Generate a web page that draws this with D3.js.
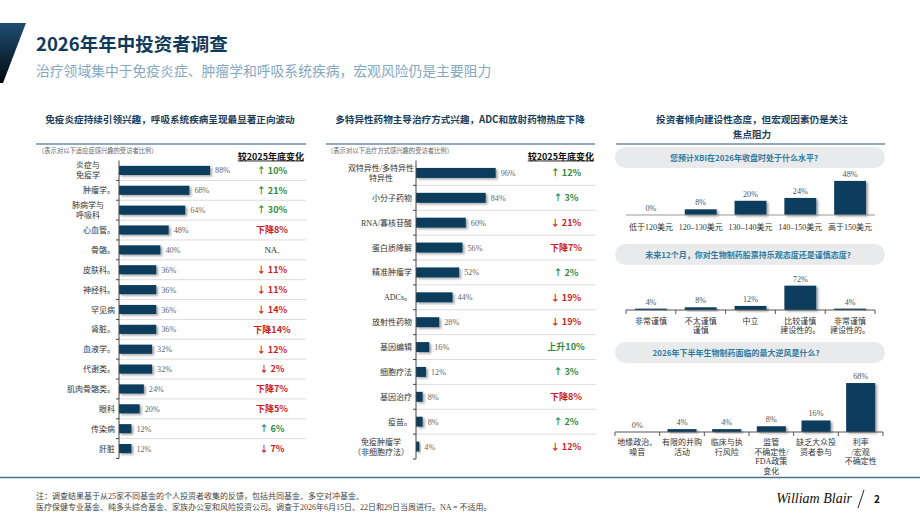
<!DOCTYPE html>
<html>
<head>
<meta charset="utf-8">
<script src="https://cdn.jsdelivr.net/npm/d3@7"></script>
<style>
  body { margin: 0; background: #fff; }
  svg text { font-family: "Noto Sans CJK SC", "Noto Sans", sans-serif; }
  svg text.serif { font-family: "Liberation Serif", "Noto Sans CJK SC", serif; }
</style>
</head>
<body>
<div id="chart"></div>
<script>
// ---- data ----
const therapyAreas = ["炎症与\n免疫学", "肿瘤学。", "肺病学与\n呼吸科", "心血管。", "骨骼。", "皮肤科。", "神经科。", "罕见病", "肾脏。", "血液学。", "代谢类。", "肌肉骨骼类。", "眼科", "传染病", "肝脏"];
const therapyShare = [88, 68, 64, 48, 40, 36, 36, 36, 36, 32, 32, 24, 20, 12, 12];
const therapyChange = ["↑ 10%", "↑ 21%", "↑ 30%", "下降8%", "NA.", "↓ 11%", "↓ 11%", "↓ 14%", "下降14%", "↓ 12%", "↓ 2%", "下降7%", "下降5%", "↑ 6%", "↓ 7%"];

const modalities = ["双特异性/多特异性\n特异性", "小分子药物", "RNA/寡核苷酸", "蛋白质降解", "精准肿瘤学", "ADCs。", "放射性药物", "基因编辑", "细胞疗法", "基因治疗", "疫苗。", "免疫肿瘤学\n（非细胞疗法）"];
const modalityShare = [96, 84, 60, 56, 52, 44, 28, 16, 12, 8, 8, 4];
const modalityChange = ["↑ 12%", "↑ 3%", "↓ 21%", "下降7%", "↑ 2%", "↓ 19%", "↓ 19%", "上升10%", "↑ 3%", "下降8%", "↑ 2%", "↓ 12%"];

const xbiLevels = ["低于120美元", "120–130美元", "130–140美元", "140–150美元", "高于150美元"];
const xbiShare = [0, 8, 20, 24, 48];

const sentimentLabels = ["非常谨慎", "不太谨慎\n谨慎", "中立", "比较谨慎\n建设性的。", "非常谨慎\n建设性的。"];
const sentimentShare = [4, 8, 12, 72, 4];

const headwindLabels = ["地缘政治、\n噪音", "有限的并购\n活动", "临床与执\n行风险", "监管\n不确定性/\nFDA政策\n变化", "缺乏大众投\n资者参与", "利率\n/宏观\n不确定性"];
const headwindShare = [0, 4, 4, 8, 16, 68];

// ---- setup ----
const width = 920, height = 518;
const barColor = "#0b3c5d";
const navy = "#0e3a5c";
const green = "#2f8a3b", red = "#cf1d1d";

const svg = d3.select("#chart").append("svg")
  .attr("width", width)
  .attr("height", height);

const defs = svg.append("defs");
const grad = defs.append("linearGradient").attr("id", "corner")
  .attr("x1", 0).attr("y1", 0).attr("x2", 0).attr("y2", 1);
grad.append("stop").attr("offset", "0%").attr("stop-color", "#1f4e73");
grad.append("stop").attr("offset", "100%").attr("stop-color", "#02080d");

defs.append("filter").attr("id", "shadow")
  .attr("x", "-20%").attr("y", "-40%").attr("width", "160%").attr("height", "200%")
  .append("feDropShadow")
  .attr("dx", 2).attr("dy", 1.5).attr("stdDeviation", 1)
  .attr("flood-color", "#000").attr("flood-opacity", 0.35);

// header
svg.append("polygon")
  .attr("points", "0,23 26,23 3,83 0,83")
  .attr("fill", "url(#corner)");

svg.append("text").attr("x", 36).attr("y", 51)
  .attr("font-size", 18.5).attr("font-weight", 700).attr("fill", navy)
  .text("2026年年中投资者调查");

svg.append("text").attr("x", 36).attr("y", 76)
  .attr("font-size", 13.8).attr("fill", "#84a8c2")
  .text("治疗领域集中于免疫炎症、肿瘤学和呼吸系统疾病，宏观风险仍是主要阻力");

// panel titles + rules
function panelTitle(lines, cx, x0, x1) {
  lines.forEach((t, i) => {
    svg.append("text").attr("x", cx).attr("y", 123 + i * 15)
      .attr("text-anchor", "middle").attr("font-size", 9.6).attr("font-weight", 700)
      .attr("fill", "#1a3d5c").text(t);
  });
  svg.append("line").attr("x1", x0).attr("x2", x1).attr("y1", 144).attr("y2", 144)
    .attr("stroke", "#8fa9bf").attr("stroke-width", 2);
}
panelTitle(["免疫炎症持续引领兴趣，呼吸系统疾病呈现最显著正向波动"], 170, 36, 306);
panelTitle(["多特异性药物主导治疗方式兴趣，ADC和放射药物热度下降"], 460, 326, 595);
panelTitle(["投资者倾向建设性态度，但宏观因素仍是关注", "焦点阻力"], 752, 616, 885);

function changeColor(s) {
  if (s.startsWith("↑") || s.startsWith("上升")) return green;
  if (s.startsWith("NA")) return "#333";
  return red;
}

// horizontal bar panel
function drawHBarPanel(o) {
  const g = svg.append("g");
  const n = o.categories.length;
  const y = d3.scaleBand().domain(o.categories)
    .range([o.top, o.bottom])
    .paddingInner(o.pad).paddingOuter(o.pad / 2);
  const x = d3.scaleLinear().domain([0, 100]).range([o.axisX, o.axisX + o.full]);
  const step = y.step();

  g.append("text").attr("x", o.noteX).attr("y", 153)
    .attr("font-size", 6.3).attr("fill", "#666").text(o.note);

  g.append("text").attr("x", o.rightX).attr("y", 159.5)
    .attr("text-anchor", "end").attr("font-size", 9).attr("font-weight", 700)
    .attr("fill", "#111").attr("text-decoration", "underline")
    .text("较2025年底变化");

  // row separators and ticks
  d3.range(1, n + 1).forEach(i => {
    const yy = o.top + i * step;
    if (i < n) {
      g.append("line").attr("x1", o.axisX).attr("x2", o.rightX + 2)
        .attr("y1", yy).attr("y2", yy).attr("stroke", "#dcdcdc").attr("stroke-width", 1);
    }
    g.append("line").attr("x1", o.axisX - 3).attr("x2", o.axisX)
      .attr("y1", yy).attr("y2", yy).attr("stroke", "#444").attr("stroke-width", 1);
  });

  g.selectAll("rect.bar").data(o.values).join("rect")
    .attr("class", "bar")
    .attr("x", o.axisX)
    .attr("y", (d, i) => y(o.categories[i]))
    .attr("width", d => x(d) - o.axisX)
    .attr("height", y.bandwidth())
    .attr("fill", barColor)
    .attr("filter", "url(#shadow)");

  g.append("line").attr("x1", o.axisX).attr("x2", o.axisX)
    .attr("y1", o.top).attr("y2", o.bottom).attr("stroke", "#444").attr("stroke-width", 1);

  g.selectAll("text.val").data(o.values).join("text")
    .attr("class", "val serif")
    .attr("x", d => x(d) + 5)
    .attr("y", (d, i) => y(o.categories[i]) + y.bandwidth() / 2 + 3)
    .attr("font-size", 8.2).attr("fill", "#666")
    .text(d => d + "%");

  o.categories.forEach((c, i) => {
    const lines = c.split("\n");
    const cy = y(c) + y.bandwidth() / 2;
    const multi = lines.length > 1;
    lines.forEach((t, j) => {
      g.append("text").attr("class", "serif")
        .attr("x", multi ? o.multiX : o.axisX - 4)
        .attr("y", cy + 3 + (j - (lines.length - 1) / 2) * 10)
        .attr("text-anchor", multi ? "middle" : "end")
        .attr("font-size", 8).attr("fill", "#333")
        .text(t);
    });
  });

  g.selectAll("text.chg").data(o.changes).join("text")
    .attr("class", d => d.startsWith("NA") ? "chg serif" : "chg")
    .attr("x", o.changeX)
    .attr("y", (d, i) => y(o.categories[i]) + y.bandwidth() / 2 + 3.3)
    .attr("text-anchor", "middle")
    .attr("font-size", 9)
    .attr("font-weight", d => d.startsWith("NA") ? 400 : 700)
    .attr("fill", d => changeColor(d))
    .text(d => d);
}

drawHBarPanel({
  categories: therapyAreas, values: therapyShare, changes: therapyChange,
  top: 160.5, bottom: 458.5, pad: 0.54, axisX: 119, full: 103.5,
  noteX: 38, note: "（表示对以下适应症感兴趣的受访者比例）",
  rightX: 304, changeX: 272, multiX: 88
});

drawHBarPanel({
  categories: modalities, values: modalityShare, changes: modalityChange,
  top: 160.5, bottom: 459, pad: 0.6, axisX: 416, full: 83,
  noteX: 327, note: "（表示对以下治疗方式感兴趣的受访者比例）",
  rightX: 594, changeX: 566, multiX: 381
});

// column charts in the right panel
function pill(y0, y1, text, tx) {
  svg.append("rect").attr("x", 615).attr("y", y0).attr("width", 270).attr("height", y1 - y0)
    .attr("rx", (y1 - y0) / 2).attr("fill", "#e9eaeb");
  svg.append("text").attr("x", tx).attr("y", (y0 + y1) / 2 + 3)
    .attr("text-anchor", "middle").attr("font-size", 8).attr("font-weight", 700)
    .attr("fill", "#2f7aa0").text(text);
}

function drawColumns(o) {
  const g = svg.append("g");
  const x = d3.scaleBand().domain(o.labels).range([o.x0, o.x1])
    .paddingInner(o.pad).paddingOuter(o.pad / 2);
  const y = d3.scaleLinear().domain([0, 100]).range([o.base, o.base - o.full]);

  g.selectAll("rect").data(o.values).join("rect")
    .attr("x", (d, i) => x(o.labels[i]))
    .attr("y", d => y(d))
    .attr("width", x.bandwidth())
    .attr("height", d => o.base - y(d))
    .attr("fill", barColor)
    .attr("filter", "url(#shadow)");

  g.append("line").attr("x1", o.x0).attr("x2", o.x1)
    .attr("y1", o.base).attr("y2", o.base)
    .attr("stroke", o.ticks ? "#555" : "#999").attr("stroke-width", 1);

  if (o.ticks) {
    d3.range(o.labels.length + 1).forEach(i => {
      const xx = o.x0 + i * x.step();
      g.append("line").attr("x1", xx).attr("x2", xx)
        .attr("y1", o.base).attr("y2", o.base + 4)
        .attr("stroke", "#555").attr("stroke-width", 1);
    });
  }

  g.selectAll("text.val").data(o.values).join("text")
    .attr("class", "val serif")
    .attr("x", (d, i) => x(o.labels[i]) + x.bandwidth() / 2)
    .attr("y", d => y(d) - 4)
    .attr("text-anchor", "middle").attr("font-size", 8.2).attr("fill", "#555")
    .text(d => d + "%");

  o.labels.forEach(l => {
    l.split("\n").forEach((t, j) => {
      g.append("text").attr("class", "serif")
        .attr("x", x(l) + x.bandwidth() / 2)
        .attr("y", o.labelY + j * o.lineH)
        .attr("text-anchor", "middle").attr("font-size", 8).attr("fill", "#333")
        .text(t);
    });
  });
}

pill(147, 168, "您预计XBI在2026年收盘时处于什么水平?", 744);
drawColumns({ labels: xbiLevels, values: xbiShare, x0: 626, x1: 875, pad: 0.36,
  base: 215, full: 71, ticks: false, labelY: 229.5, lineH: 9.5 });

pill(244, 265, "未来12个月，你对生物制药股票持乐观态度还是谨慎态度?", 748);
drawColumns({ labels: sentimentLabels, values: sentimentShare, x0: 626, x1: 875, pad: 0.36,
  base: 310, full: 33.8, ticks: true, labelY: 324, lineH: 9 });

pill(342, 363, "2026年下半年生物制药面临的最大逆风是什么?", 736);
drawColumns({ labels: headwindLabels, values: headwindShare, x0: 615, x1: 883, pad: 0.35,
  base: 432, full: 72, ticks: true, labelY: 445, lineH: 9.5 });

// footer
svg.append("line").attr("x1", 0).attr("x2", width).attr("y1", 477.5).attr("y2", 477.5)
  .attr("stroke", "#4a6f8c").attr("stroke-width", 1.5);

const notes = ["注：调查结果基于从25家不同基金的个人投资者收集的反馈，包括共同基金、多空对冲基金、",
  "医疗保健专业基金、纯多头综合基金、家族办公室和风险投资公司。调查于2026年6月15日、22日和29日当周进行。NA = 不适用。"];
notes.forEach((t, i) => {
  svg.append("text").attr("class", "serif").attr("x", 36).attr("y", 499 + i * 10.5)
    .attr("font-size", 8).attr("fill", "#444").text(t);
});

svg.append("text").attr("class", "serif").attr("x", 852).attr("y", 503)
  .attr("text-anchor", "end").attr("font-size", 14).attr("font-style", "italic")
  .attr("fill", "#111").text("William Blair");
svg.append("line").attr("x1", 864).attr("x2", 858).attr("y1", 490).attr("y2", 508)
  .attr("stroke", "#111").attr("stroke-width", 0.9);
svg.append("text").attr("x", 877).attr("y", 503)
  .attr("text-anchor", "middle").attr("font-size", 10).attr("font-weight", 700)
  .attr("fill", "#111").text("2");
</script>
</body>
</html>
